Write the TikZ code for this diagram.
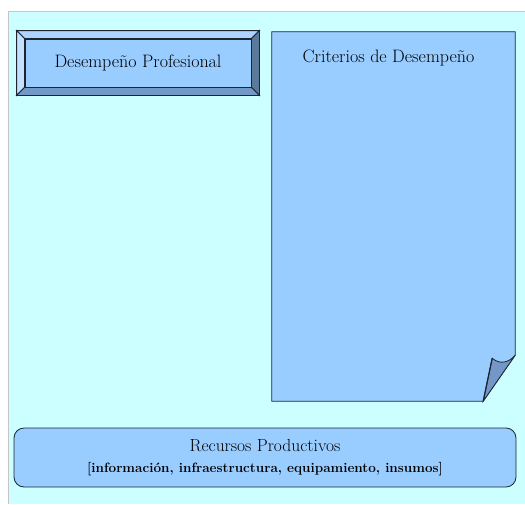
\documentclass[tikz,border=0pt]{standalone}
\usepackage{tikz}
\usetikzlibrary{positioning}

\definecolor{fondo}{HTML}{CCFFFF}
\definecolor{caja}{HTML}{99CCFF}
\definecolor{biselsup}{HTML}{ADD3FF}
\definecolor{biselizq}{HTML}{C4E1FF}
\definecolor{biselder}{HTML}{5B7A9B}
\definecolor{biselinf}{HTML}{7399C6}
\definecolor{pliegue}{HTML}{7398C8}
\definecolor{borde}{HTML}{1E252E}

\begin{document}
\begin{tikzpicture}[x=1pt, y=-1pt, font=\fontsize{18}{21}\selectfont]
    \tikzstyle{face} = [draw=borde, line width=0.8pt, fill=caja, inner sep=0pt]
    \tikzstyle{bevel} = [draw=borde, line width=0.8pt]
    \tikzstyle{hoja} = [inner sep=0pt]
    \tikzstyle{redonda} = [draw=borde, line width=0.8pt, fill=caja, rounded corners=10pt, align=center, inner sep=0pt]
    \useasboundingbox (0,0) rectangle (525,504);
    % fondo
    \fill[fondo] (8,11) rectangle (525,504);
    \draw[gray!45, line width=1pt] (8,504) -- (8,11) -- (525,11);

    \path
        node[hoja, minimum width=243pt, minimum height=369pt] (crit) at (393.5,216.5) {}
        node[redonda, minimum width=502pt, minimum height=59pt] (recursos) at (265,457.5)
            {\fontsize{17.5}{20}\selectfont Recursos Productivos\\
             {\fontsize{13.5}{16}\selectfont\bfseries [informaci\'on, infraestructura, equipamiento, insumos]}}
        ;

    % hoja con esquina doblada
    \coordinate (esqder) at ([yshift=46pt]crit.south east);
    \coordinate (esqinf) at ([xshift=-32pt]crit.south east);
    \coordinate (punta) at ([shift={(-23,-43)}]crit.south east);
    \filldraw[draw=borde, line width=0.8pt, fill=caja] (crit.north west) -- (crit.north east) -- (esqder)
        -- (esqinf) -- (crit.south west) -- cycle;
    \filldraw[draw=borde, line width=0.8pt, fill=pliegue] (esqinf) -- (punta)
        .. controls ([shift={(8,7)}]punta) and ([shift={(-6,7)}]esqder) .. (esqder) -- cycle;
    \draw[borde, line width=1.2pt] (esqinf) -- (punta);
    \node[hoja, below=18pt of crit.north, xshift=-5pt] (critlabel) {Criterios de Desempe\~no};

    % boton con bisel
    \node[face, minimum width=226pt, minimum height=48pt] (prof) at (138,63) {Desempe\~no Profesional};
    \filldraw[bevel, fill=biselsup] (prof.north west) -- (prof.north east)
        -- ([shift={(8,-8)}]prof.north east) -- ([shift={(-8,-8)}]prof.north west) -- cycle;
    \filldraw[bevel, fill=biselizq] (prof.north west) -- (prof.south west)
        -- ([shift={(-8,8)}]prof.south west) -- ([shift={(-8,-8)}]prof.north west) -- cycle;
    \filldraw[bevel, fill=biselder] (prof.north east) -- (prof.south east)
        -- ([shift={(8,8)}]prof.south east) -- ([shift={(8,-8)}]prof.north east) -- cycle;
    \filldraw[bevel, fill=biselinf] (prof.south west) -- (prof.south east)
        -- ([shift={(8,8)}]prof.south east) -- ([shift={(-8,8)}]prof.south west) -- cycle;
\end{tikzpicture}
\end{document}
